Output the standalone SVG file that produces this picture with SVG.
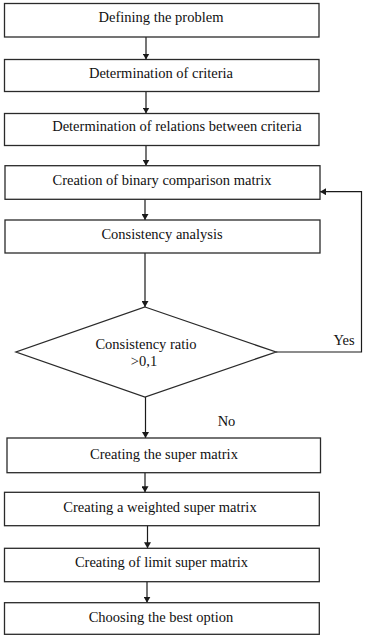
<svg xmlns="http://www.w3.org/2000/svg" width="367" height="640" viewBox="0 0 367 640">
<defs>
<marker id="ah" markerWidth="6" markerHeight="7" refX="6" refY="3.5" orient="auto" markerUnits="userSpaceOnUse">
<path d="M0,0 L6,3.5 L0,7 Z" fill="#1a1a1a"/>
</marker>
<style>
.box{fill:#fff;stroke:#2a2a2a;stroke-width:1.3}
.t{font-family:'Liberation Serif','Times New Roman',serif;font-size:14.5px;fill:#111;text-anchor:middle}
.c{fill:none;stroke:#1a1a1a;stroke-width:1.2}
</style>
</defs>
<rect width="367" height="640" fill="#fff"/>
<g id="connectors">
<line class="c" x1="146" y1="37" x2="146" y2="59.5" marker-end="url(#ah)"/>
<line class="c" x1="146" y1="91.5" x2="146" y2="113.5" marker-end="url(#ah)"/>
<line class="c" x1="146" y1="145.5" x2="146" y2="165.7" marker-end="url(#ah)"/>
<line class="c" x1="145" y1="199.3" x2="145" y2="220" marker-end="url(#ah)"/>
<line class="c" x1="145" y1="253" x2="145" y2="307" marker-end="url(#ah)"/>
<polyline class="c" points="276,352 361.5,352 361.5,191.7 320,191.7" marker-end="url(#ah)"/>
<line class="c" x1="145.5" y1="397" x2="145.5" y2="438" marker-end="url(#ah)"/>
<line class="c" x1="145" y1="472.7" x2="145" y2="492.3" marker-end="url(#ah)"/>
<line class="c" x1="147.5" y1="525.7" x2="147.5" y2="548.3" marker-end="url(#ah)"/>
<line class="c" x1="147" y1="581.7" x2="147" y2="602.7" marker-end="url(#ah)"/>
<text class="t" x="344" y="345">Yes</text>
<text class="t" x="226.5" y="426">No</text>
</g>
<g id="n1"><rect class="box" x="4.5" y="3.5" width="314.5" height="33.5"/><text class="t" x="161" y="22">Defining the problem</text></g>
<g id="n2"><rect class="box" x="4.5" y="59.5" width="314.5" height="32"/><text class="t" x="161" y="77.7">Determination of criteria</text></g>
<g id="n3"><rect class="box" x="4.5" y="113.5" width="314.5" height="32"/><text class="t" x="177" y="131">Determination of relations between criteria</text></g>
<g id="n4"><rect class="box" x="5" y="165.7" width="315" height="33.6"/><text class="t" x="162" y="185">Creation of binary comparison matrix</text></g>
<g id="n5"><rect class="box" x="5" y="220" width="315" height="33"/><text class="t" x="162" y="239.3">Consistency analysis</text></g>
<g id="n6"><polygon class="box" points="145,307 276,352 145,397 16,352"/><text class="t" x="146" y="349">Consistency ratio</text><text class="t" x="144" y="365.7">&gt;0,1</text></g>
<g id="n7"><rect class="box" x="7" y="438" width="313.5" height="34.7"/><text class="t" x="164" y="459">Creating the super matrix</text></g>
<g id="n8"><rect class="box" x="4.5" y="492.3" width="314.8" height="33.4"/><text class="t" x="160" y="511.7">Creating a weighted super matrix</text></g>
<g id="n9"><rect class="box" x="4.5" y="548.3" width="314.8" height="33.4"/><text class="t" x="161.5" y="567.3">Creating of limit super matrix</text></g>
<g id="n10"><rect class="box" x="4.5" y="602.7" width="314.8" height="31.6"/><text class="t" x="161" y="621.7">Choosing the best option</text></g>
</svg>
